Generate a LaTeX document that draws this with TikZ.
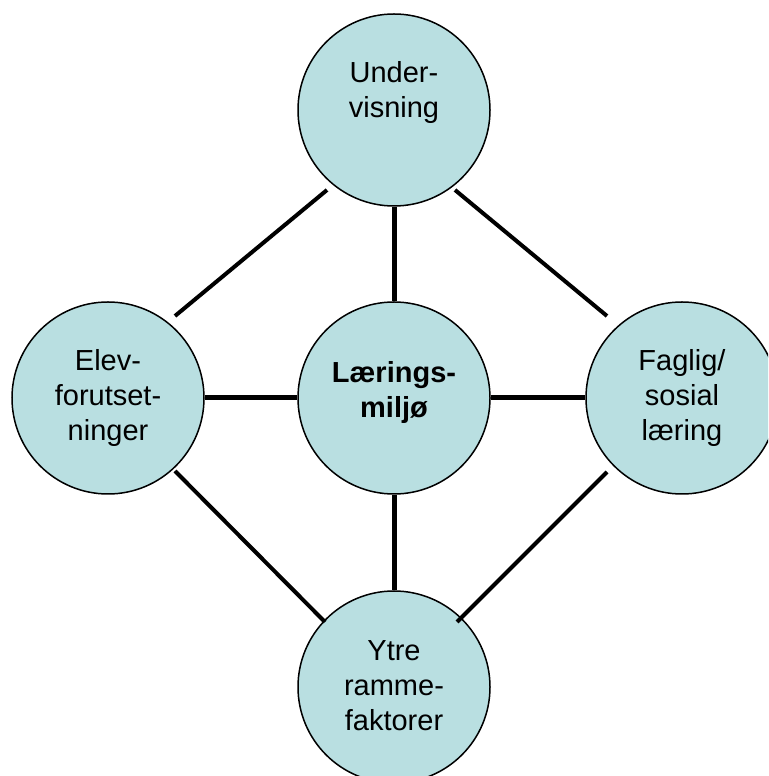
\documentclass[tikz,border=0pt]{standalone}
\usepackage{fontspec}
\setmainfont{Liberation Sans}
\definecolor{circlefill}{HTML}{B9DFE1}

\begin{document}
\begin{tikzpicture}[x=1pt, y=1pt,
    circ/.style={circle, draw=black, line width=1.5pt, fill=circlefill,
      minimum size=192pt, inner sep=0pt},
    txt/.style={font=\fontsize{29}{35}\selectfont, align=center},
    link/.style={line width=5pt},
    diag/.style={line width=4pt}]
  \useasboundingbox (0,0) rectangle (768,776);
  \clip (0,0) rectangle (768,776);
  % circles
  \node[circ] (under) at (394,666) {};
  \node[circ] (elev)  at (108,378) {};
  \node[circ] (miljo) at (394,378) {};
  \node[circ] (faglig) at (682,378) {};
  \node[circ] (ytre)  at (394,89) {};
  % texts
  \node[txt] (under-txt) at ([yshift=17pt]under) {Under-\\visning};
  \node[txt] (elev-txt) at (elev) {Elev-\\forutset-\\ninger};
  \node[txt, font=\fontsize{29}{35}\selectfont\bfseries]
    (miljo-txt) at ([yshift=5pt]miljo) {Lærings-\\miljø};
  \node[txt] (faglig-txt) at (faglig) {Faglig/\\sosial\\læring};
  \node[txt] (ytre-txt) at ([yshift=1pt]ytre) {Ytre\\ramme-\\faktorer};
  % links to the middle
  \draw[link] (under) -- (miljo);
  \draw[link] (elev) -- (miljo);
  \draw[link] (faglig) -- (miljo);
  \draw[link] (ytre) -- (miljo);
  % outer ring
  \draw[diag] ([shift={(-67,-80)}]under.center) -- ([shift={(67,82)}]elev.center);
  \draw[diag] ([shift={(61,-80)}]under.center) -- ([shift={(-75,82)}]faglig.center);
  \draw[diag] ([shift={(67,-73)}]elev.center) -- ([shift={(-69,65)}]ytre.center);
  \draw[diag] ([shift={(-75,-74)}]faglig.center) -- ([shift={(63,65)}]ytre.center);
\end{tikzpicture}
\end{document}
